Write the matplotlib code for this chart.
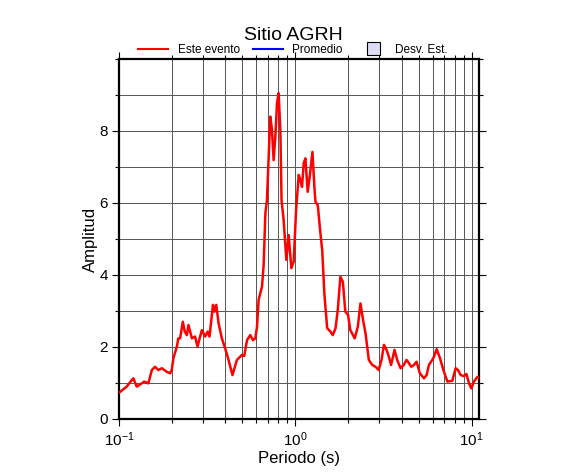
import matplotlib
matplotlib.use('Agg')
import matplotlib.pyplot as plt
from matplotlib.lines import Line2D
from matplotlib.patches import Patch, Rectangle
from matplotlib.legend_handler import HandlerPatch
from matplotlib.ticker import LogLocator, FixedLocator, MultipleLocator, NullFormatter

plt.rcParams['font.family'] = ['Liberation Sans', 'DejaVu Sans']
plt.rcParams['mathtext.fontset'] = 'custom'
plt.rcParams['mathtext.rm'] = 'Liberation Sans'
plt.rcParams['mathtext.it'] = 'Liberation Sans:italic'

title = 'Sitio AGRH'

# periodo (s) y amplitud
periodo = [0.100, 0.1106, 0.118, 0.1206, 0.126, 0.1346, 0.139, 0.1467, 0.1535, 0.160,
           0.167, 0.175, 0.1867, 0.195, 0.199, 0.2035, 0.2128, 0.217, 0.222, 0.230,
           0.236, 0.2425, 0.2477, 0.259, 0.270, 0.2786, 0.295, 0.308, 0.318, 0.326,
           0.341, 0.348, 0.356, 0.367, 0.383, 0.400, 0.418, 0.440, 0.466, 0.498,
           0.513, 0.532, 0.555, 0.575, 0.593, 0.606, 0.619, 0.647, 0.661, 0.676,
           0.690, 0.705, 0.721, 0.737, 0.753, 0.770, 0.787, 0.804, 0.822, 0.835,
           0.858, 0.889, 0.916, 0.949, 0.978, 1.010, 1.045, 1.067, 1.091, 1.115,
           1.140, 1.175, 1.206, 1.250, 1.282, 1.300, 1.340, 1.387, 1.420, 1.460,
           1.515, 1.580, 1.630, 1.690, 1.740, 1.800, 1.860, 1.920, 1.990, 2.050,
           2.170, 2.260, 2.340, 2.420, 2.500, 2.610, 2.730, 2.850, 2.970, 3.080,
           3.180, 3.290, 3.390, 3.490, 3.650, 3.780, 3.950, 4.120, 4.270, 4.410,
           4.540, 4.700, 4.870, 5.080, 5.360, 5.550, 5.720, 6.060, 6.330, 6.610,
           6.910, 7.280, 7.760, 8.110, 8.360, 8.660, 9.040, 9.330, 9.660, 9.950,
           10.30, 10.77, 11.15]
amplitud = [0.73, 0.90, 1.08, 1.13, 0.90, 0.99, 1.04, 0.99, 1.36, 1.45,
            1.36, 1.41, 1.31, 1.27, 1.36, 1.69, 2.01, 2.24, 2.24, 2.70,
            2.43, 2.33, 2.61, 2.24, 2.29, 2.01, 2.47, 2.29, 2.43, 2.29,
            3.17, 2.98, 3.17, 2.66, 2.24, 1.96, 1.64, 1.22, 1.64, 1.78,
            1.75, 2.19, 2.33, 2.19, 2.24, 2.56, 3.31, 3.68, 4.28, 5.71,
            6.08, 7.19, 8.40, 8.03, 7.19, 7.84, 8.77, 9.05, 8.03, 6.08,
            5.53, 4.42, 5.11, 4.19, 4.37, 5.81, 6.78, 6.64, 6.45, 7.10,
            7.24, 6.31, 6.73, 7.42, 6.45, 6.04, 5.94, 5.16, 4.69, 3.49,
            2.52, 2.43, 2.33, 2.52, 3.03, 3.95, 3.81, 2.98, 2.89, 2.47,
            2.24, 2.56, 3.21, 2.75, 2.38, 1.64, 1.50, 1.45, 1.36, 1.64,
            2.06, 1.92, 1.73, 1.50, 1.92, 1.64, 1.41, 1.50, 1.64, 1.55,
            1.45, 1.50, 1.59, 1.27, 1.13, 1.22, 1.50, 1.69, 1.94, 1.69,
            1.36, 1.04, 1.06, 1.41, 1.36, 1.22, 1.19, 1.25, 0.99, 0.85,
            1.04, 1.17, 1.13]

yticks = [0, 2, 4, 6, 8]
legend_labels = ['Este evento', 'Promedio', 'Desv. Est.']


def square_patch(legend, orig_handle, xdescent, ydescent, width, height, fontsize):
    # cuadrado algo a la derecha del espacio del simbolo
    s = 1.55 * height
    return Rectangle((-xdescent + 0.65 * (width - s), -ydescent + (height - s) / 2), s, s)


fig = plt.figure(figsize=(5.86, 4.75), dpi=100)
ax = fig.add_axes([0.2031, 0.1179, 0.6143, 0.7579])

ax.plot(periodo, amplitud, color='red', lw=1.8, zorder=3)

ax.set_xscale('log')
ax.set_xlim(0.1, 11)
ax.set_ylim(0, 10)
ax.xaxis.set_minor_locator(LogLocator(base=10, subs=range(2, 10)))
ax.xaxis.set_minor_formatter(NullFormatter())
ax.yaxis.set_major_locator(FixedLocator(yticks))
ax.yaxis.set_minor_locator(MultipleLocator(1))

ax.grid(True, which='both', color='#555555', lw=0.7)
ax.tick_params(which='both', direction='out', top=True, right=True, labelsize=11,
               width=0.8, pad=3)
ax.tick_params(which='major', length=5)
ax.tick_params(which='minor', length=3)
for t in ax.yaxis.get_major_ticks() + ax.yaxis.get_minor_ticks():
    t.tick2line.set_color('#888888')
for s in ax.spines.values():
    s.set_linewidth(1.6)

ax.set_xlabel('Periodo (s)', fontsize=12, labelpad=2)
ax.set_ylabel('Amplitud', fontsize=12, labelpad=1)
fig.text(0.5, 1 - 40 / 475, title, ha='center', va='baseline', fontsize=14)

handles = [Line2D([], [], color='red', lw=1.5),
           Line2D([], [], color='blue', lw=1.5),
           Patch(facecolor='#dcdcf5', edgecolor='black', lw=0.8)]
fig.legend(handles, legend_labels, ncol=3, loc='center', bbox_to_anchor=(0.5, 1 - 50 / 475),
           frameon=False, fontsize=8.5, handlelength=2.55, handletextpad=0.8,
           columnspacing=1.1, borderpad=0.1,
           handler_map={Patch: HandlerPatch(patch_func=square_patch)})

fig.savefig('out.png', dpi=100)
